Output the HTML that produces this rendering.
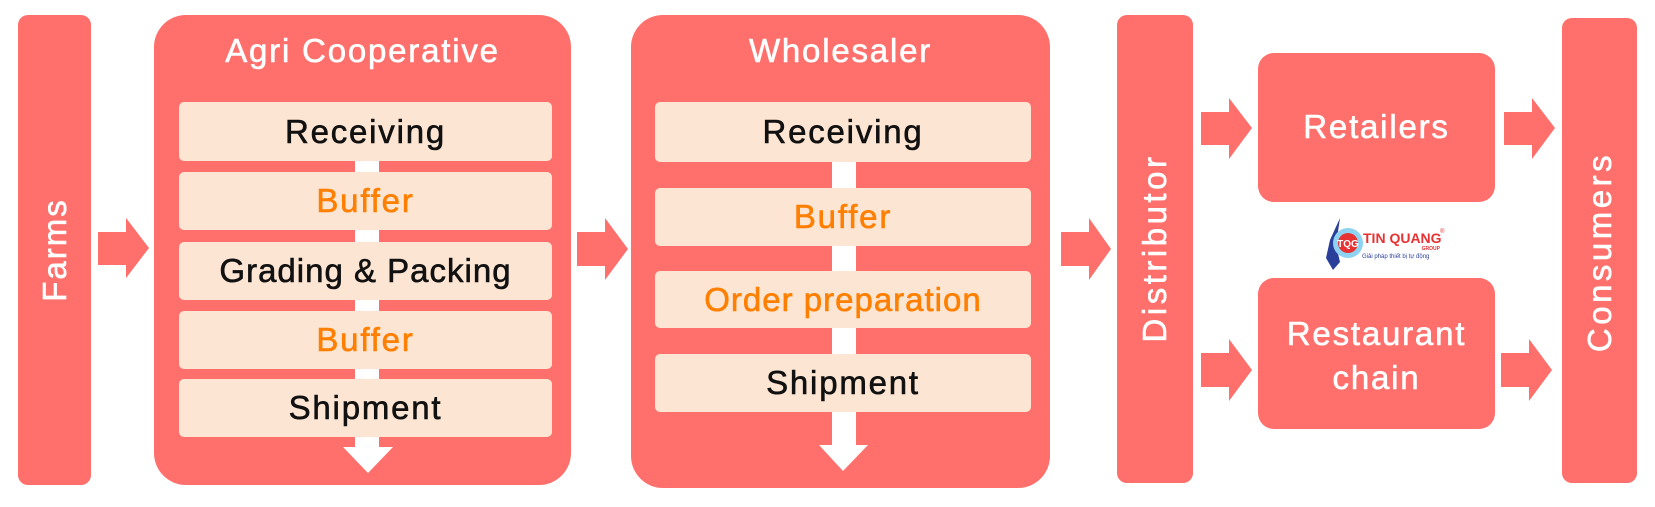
<!DOCTYPE html>
<html><head><meta charset="utf-8"><style>
body{margin:0;width:1655px;height:507px;background:#fff;position:relative;overflow:hidden;font-family:"Liberation Sans",sans-serif;}
.c{position:absolute;background:#FF6F6B;}
.in{position:absolute;background:#FDE5D3;border-radius:5px;display:flex;align-items:center;justify-content:center;font-size:33px;color:#111;-webkit-text-stroke:0.6px currentColor;letter-spacing:1.8px;}
.o{color:#FF7F00;}
.t{position:absolute;color:#fff;font-size:33px;-webkit-text-stroke:0.6px #fff;text-align:center;letter-spacing:1.8px;}
.v{position:absolute;color:#fff;font-size:33px;-webkit-text-stroke:0.6px #fff;letter-spacing:3.5px;transform:translate(-50%,-50%) rotate(-90deg);white-space:nowrap;}
svg{position:absolute;left:0;top:0;}
</style></head><body>
<div class="c" style="left:18px;top:15px;width:73px;height:470px;border-radius:10px"></div>
<div class="v" style="left:55px;top:250px;letter-spacing:2px">Farms</div>

<div class="c" style="left:154px;top:15px;width:417px;height:470px;border-radius:32px"></div>
<div class="t" style="left:154px;top:32px;width:417px">Agri Cooperative</div>
<div class="c" style="left:1117px;top:15px;width:76px;height:468px;border-radius:10px"></div>
<div class="v" style="left:1155px;top:248px">Distributor</div>
<div class="c" style="left:631px;top:15px;width:419px;height:473px;border-radius:32px"></div>
<div class="t" style="left:631px;top:32px;width:419px">Wholesaler</div>
<div class="c" style="left:1258px;top:53px;width:237px;height:149px;border-radius:16px"></div>
<div class="t" style="left:1258px;top:108px;width:237px">Retailers</div>
<div class="c" style="left:1258px;top:278px;width:237px;height:151px;border-radius:16px"></div>
<div class="t" style="left:1258px;top:312px;width:237px;line-height:44px">Restaurant<br>chain</div>
<div class="c" style="left:1562px;top:18px;width:75px;height:465px;border-radius:10px"></div>
<div class="v" style="left:1600px;top:252px">Consumers</div>

<svg width="1655" height="507">
<g fill="#fff">
<rect x="355" y="150" width="24" height="300"/>
<polygon points="343,447 393,447 368,473"/>
<rect x="832" y="150" width="24" height="297"/>
<polygon points="819,445 868,445 843,471"/>
</g>
<g fill="#FF6F6B">
<polygon points="98,232 126,232 126,218 149,248 126,278 126,265 98,265"/>
<polygon points="577,232 605,232 605,218 628,249 605,280 605,266 577,266"/>
<polygon points="1061,232 1089,232 1089,218 1111,249 1089,280 1089,266 1061,266"/>
<polygon points="1201,112 1229,112 1229,98 1252,128 1229,159 1229,145 1201,145"/>
<polygon points="1201,353 1229,353 1229,339 1252,370 1229,401 1229,387 1201,387"/>
<polygon points="1504,112 1532,112 1532,98 1555,128 1532,159 1532,145 1504,145"/>
<polygon points="1501,353 1529,353 1529,339 1552,370 1529,401 1529,387 1501,387"/>
</g>
<path d="M1340,218 L1330,240 L1326,258 L1333,270 L1340,262 L1336,245 Z" fill="#2a3f9a"/>
<circle cx="1348" cy="243" r="15" fill="#8fd3f2"/>
<circle cx="1348" cy="243" r="10" fill="#e63232"/>
<text x="1348" y="247" font-size="10" fill="#fff" text-anchor="middle" font-family="Liberation Sans" font-weight="bold">TQG</text>
<text x="1363" y="243" font-size="14" fill="#e63232" font-family="Liberation Sans" font-weight="bold">TIN QUANG</text>
<text x="1440" y="233" font-size="6" fill="#e63232" font-family="Liberation Sans">®</text>
<text x="1440" y="250" font-size="5" fill="#e63232" text-anchor="end" font-family="Liberation Sans" font-weight="bold">GROUP</text>
<text x="1362" y="258" font-size="6" fill="#2a3f9a" font-family="Liberation Sans">Giải pháp thiết bị tự động</text>
</svg>

<div class="in" style="left:179px;top:102px;width:373px;height:59px">Receiving</div>
<div class="in o" style="left:179px;top:172px;width:373px;height:58px">Buffer</div>
<div class="in" style="left:179px;top:242px;width:373px;height:58px;letter-spacing:1px">Grading &amp; Packing</div>
<div class="in o" style="left:179px;top:311px;width:373px;height:58px">Buffer</div>
<div class="in" style="left:179px;top:379px;width:373px;height:58px">Shipment</div>

<div class="in" style="left:655px;top:102px;width:376px;height:60px">Receiving</div>
<div class="in o" style="left:655px;top:188px;width:376px;height:58px">Buffer</div>
<div class="in o" style="left:655px;top:271px;width:376px;height:57px;letter-spacing:1px">Order preparation</div>
<div class="in" style="left:655px;top:354px;width:376px;height:58px">Shipment</div>
</body></html>
